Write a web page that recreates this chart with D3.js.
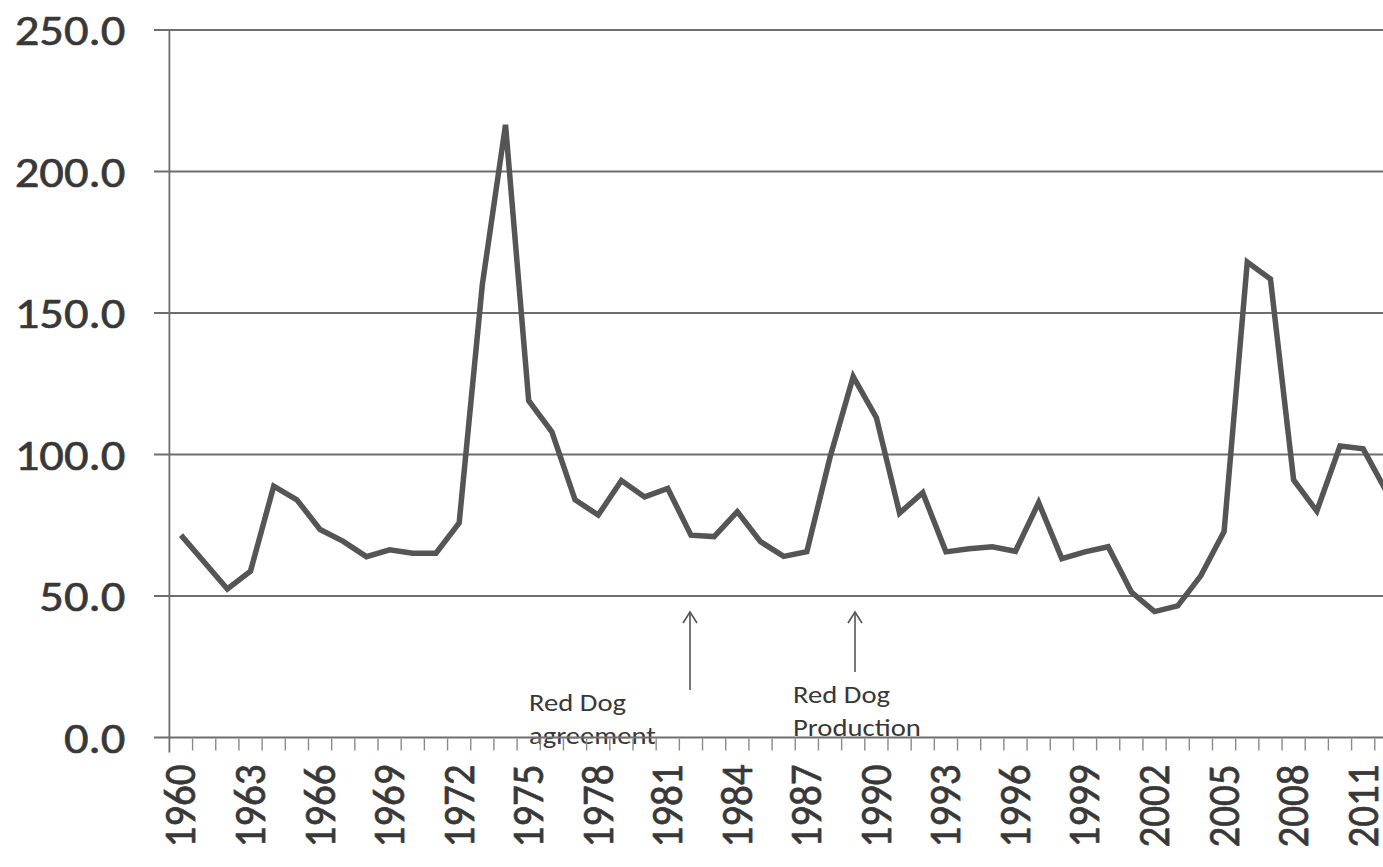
<!DOCTYPE html>
<html>
<head>
<meta charset="utf-8">
<script src="https://cdn.jsdelivr.net/npm/d3@7"></script>
<style>
  html, body { margin: 0; padding: 0; background: #ffffff; }
  svg { display: block; }
  text { font-family: Carlito, Calibri, "Open Sans", Lato, sans-serif; fill: #383838; }
  .heavy { stroke: #383838; stroke-width: 0.6px; }
</style>
</head>
<body>
<svg id="chart" width="1383" height="867"></svg>
<script>
// ---- data ----
const years = [1960,1961,1962,1963,1964,1965,1966,1967,1968,1969,
               1970,1971,1972,1973,1974,1975,1976,1977,1978,1979,
               1980,1981,1982,1983,1984,1985,1986,1987,1988,1989,
               1990,1991,1992,1993,1994,1995,1996,1997,1998,1999,
               2000,2001,2002,2003,2004,2005,2006,2007,2008,2009,
               2010,2011,2012];
const values = [71.5,62,52.5,58.8,88.8,84,73.5,69.3,63.9,66.3,
                65.1,65.1,75.8,160,216.5,119,108,84,78.6,90.8,
                85,88,71.5,71,79.8,69.2,64,65.7,99,127.5,
                113,79.3,86.5,65.6,66.7,67.4,65.8,83,63.2,65.6,
                67.4,51.4,44.5,46.5,57.2,72.8,168,162,91,80,
                103,102,87];
const xTickLabels = [1960,1963,1966,1969,1972,1975,1978,1981,1984,1987,
                     1990,1993,1996,1999,2002,2005,2008,2011];
const yTicks = [0,50,100,150,200,250];
const annotations = [
  { year: 1982, lines: ["Red Dog", "agreement"] },
  { year: 1989, lines: ["Red Dog", "Production"] }
];

// ---- layout ----
const W = 1383, H = 867;
const plotLeft = 169.4, step = 23.18;
const plotRight = plotLeft + step * years.length;
const plotTop = 30, plotBottom = 737.5;
const sx = 1.17; // horizontal stretch of the reference's lettering

const svg = d3.select("#chart");
const x = d3.scaleBand().domain(years).range([plotLeft, plotRight]).padding(0);
const y = d3.scaleLinear().domain([0, 250]).range([plotBottom, plotTop]);
const cx = d => x(d) + x.bandwidth() / 2;

// ---- annotations (drawn under axes) ----
const annG = svg.append("g");
const annPos = [
  { tx: 529, ty: 711, ax: 690, ay1: 690, ay2: 612 },
  { tx: 793, ty: 703, ax: 855, ay1: 672, ay2: 612 }
];
annotations.forEach((a, i) => {
  const p = annPos[i];
  const t = annG.append("text")
    .attr("x", 0).attr("y", 0)
    .attr("transform", `translate(${p.tx},${p.ty}) scale(${sx},1)`)
    .style("font-size", "24.5px");
  a.lines.forEach((ln, j) => {
    t.append("tspan").attr("x", 0).attr("dy", j === 0 ? 0 : 33).text(ln);
  });
  annG.append("line")
    .attr("x1", p.ax).attr("x2", p.ax).attr("y1", p.ay1).attr("y2", p.ay2)
    .attr("stroke", "#555").attr("stroke-width", 1.6);
  annG.append("path")
    .attr("d", `M${p.ax - 7},${p.ay2 + 11} L${p.ax},${p.ay2} L${p.ax + 7},${p.ay2 + 11}`)
    .attr("fill", "none").attr("stroke", "#555").attr("stroke-width", 1.6);
});

// ---- gridlines + y axis ----
const yAxis = d3.axisLeft(y)
  .tickValues(yTicks)
  .tickFormat(d3.format(".1f"))
  .tickSize(0)
  .tickPadding(44);
const yg = svg.append("g").attr("transform", `translate(${plotLeft},0)`).call(yAxis);
yg.select(".domain").remove();
yg.selectAll("text")
  .classed("heavy", true)
  .style("font-size", "43px")
  .attr("fill", "#383838")
  .attr("x", 0)
  .attr("dy", "0.34em")
  .attr("transform", `translate(-44,0) scale(1.13,1)`);

svg.append("g").selectAll("line").data(yTicks).join("line")
  .attr("x1", 154).attr("x2", W)
  .attr("y1", d => y(d)).attr("y2", d => y(d))
  .attr("stroke", "#6e6e6e").attr("stroke-width", 1.8);

// vertical axis line
svg.append("line")
  .attr("x1", plotLeft).attr("x2", plotLeft).attr("y1", plotTop).attr("y2", plotBottom + 15)
  .attr("stroke", "#6e6e6e").attr("stroke-width", 1.8);

// x tick marks at category boundaries
svg.append("g").selectAll("line").data(years.slice(1)).join("line")
  .attr("x1", d => x(d)).attr("x2", d => x(d))
  .attr("y1", plotBottom + 1).attr("y2", plotBottom + 13)
  .attr("stroke", "#8a8a8a").attr("stroke-width", 1.4);

// x labels (rotated)
const xAxis = d3.axisBottom(x)
  .tickValues(xTickLabels)
  .tickSize(0)
  .tickPadding(0);
const xg = svg.append("g").attr("transform", `translate(0,${plotBottom})`).call(xAxis);
xg.select(".domain").remove();
xg.selectAll("text")
  .classed("heavy", true)
  .style("font-size", "41px")
  .attr("fill", "#383838")
  .attr("text-anchor", "end")
  .attr("x", 0)
  .attr("y", 0)
  .attr("dy", "0.32em")
  .attr("transform", "translate(0,27) scale(1.1,1) rotate(-90)");

// ---- line ----
const line = d3.line()
  .x((d, i) => cx(years[i]))
  .y(d => y(d));
svg.append("path")
  .datum(values)
  .attr("d", line)
  .attr("fill", "none")
  .attr("stroke", "#555555")
  .attr("stroke-width", 5.5)
  .attr("stroke-linejoin", "miter");
</script>
</body>
</html>
